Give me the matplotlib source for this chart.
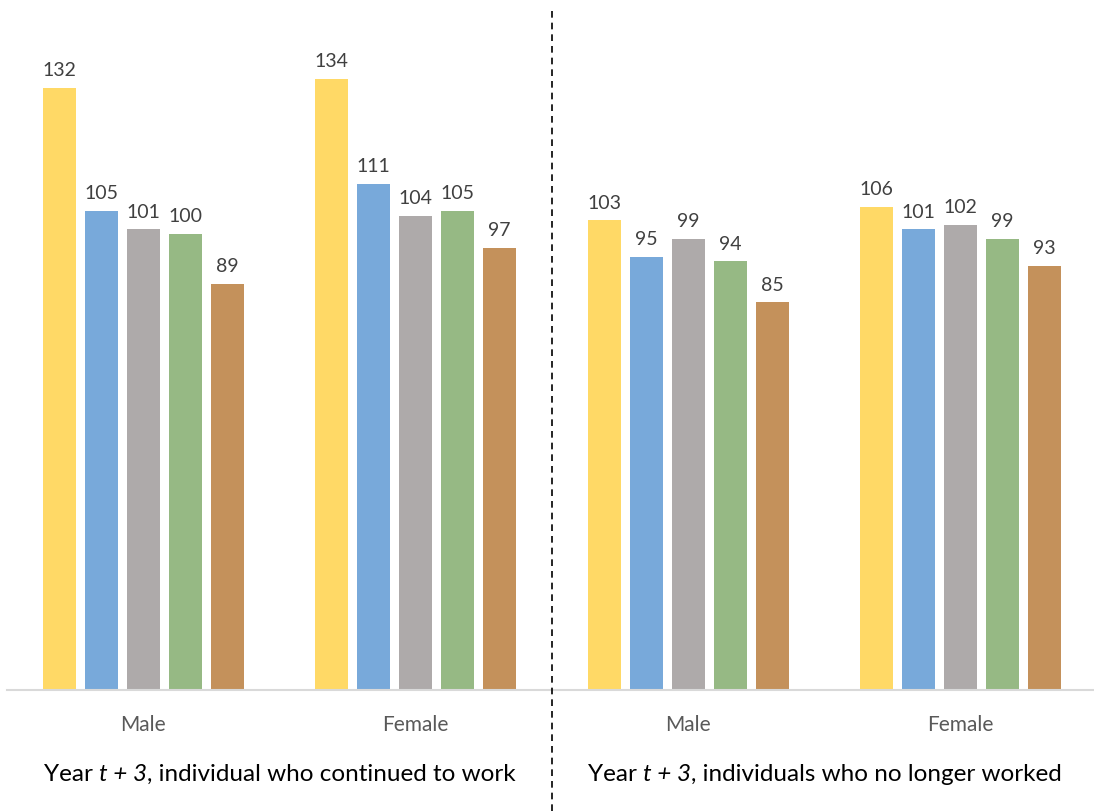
import matplotlib
matplotlib.use('Agg')

import numpy as np
import matplotlib.pyplot as plt
from matplotlib.lines import Line2D
from matplotlib.offsetbox import TextArea, HPacker, AnnotationBbox

plt.rcParams['font.family'] = ['Lato', 'DejaVu Sans']

categories = ['Male', 'Female', 'Male', 'Female']
yellow_vals = [132, 134, 103, 106]
blue_vals = [105, 111, 95, 101]
gray_vals = [101, 104, 99, 102]
green_vals = [100, 105, 94, 99]
brown_vals = [89, 97, 85, 93]
panel_tails = [', individual who continued to work',
               ', individuals who no longer worked']

series = [yellow_vals, blue_vals, gray_vals, green_vals, brown_vals]
colors = ['#FFD966', '#78A9DA', '#AEAAAA', '#96B984', '#C4915B']

fig = plt.figure(figsize=(10.94, 8.12), dpi=100)
# axes spans x 7..1097 px, y baseline at 691 px from top
ax = fig.add_axes([7 / 1094, (812 - 691) / 812, 1090 / 1094, 651 / 812])

x = np.arange(len(categories))
width = 0.121
step = 0.154
for i, (vals, c) in enumerate(zip(series, colors)):
    pos = x + (i - 2) * step
    bars = ax.bar(pos, vals, width, color=c, zorder=2)
    for b, v in zip(bars, vals):
        ax.annotate(str(v), (b.get_x() + b.get_width() / 2, v),
                    xytext=(0, 7), textcoords='offset points',
                    ha='center', va='bottom', fontsize=14, color='#404040')

ax.set_xlim(-0.5, 3.5)
ax.set_ylim(0, 651 / 4.56)
for s in ['top', 'right', 'left']:
    ax.spines[s].set_visible(False)
ax.spines['bottom'].set_color('#D9D9D9')
ax.spines['bottom'].set_linewidth(1.5)
ax.set_yticks([])
ax.set_xticks(x)
ax.set_xticklabels(categories, fontsize=15, color='#595959')
ax.tick_params(axis='x', length=0, pad=17)

# panel titles under the category labels, "t + 3" in italics
for k, tail in enumerate(panel_tails):
    props = dict(fontsize=17.5, color='black')
    parts = [TextArea('Year ', textprops=props),
             TextArea('t + 3', textprops=dict(props, fontstyle='italic')),
             TextArea(tail, textprops=props)]
    box = HPacker(children=parts, pad=0, sep=0, align='baseline')
    ab = AnnotationBbox(box, (2 * k + 0.5, -0.128), xycoords=ax.get_xaxis_transform(),
                        box_alignment=(0.5, 0.5), frameon=False, pad=0,
                        annotation_clip=False)
    ax.add_artist(ab)

# dashed divider between the two panels
xd = ax.transData.transform((1.5, 0))[0] / fig.bbox.width
fig.add_artist(Line2D([xd, xd], [0, 0.99], transform=fig.transFigure,
                      color='black', linestyle=(0, (4, 3)), linewidth=1.2))

fig.savefig('out.png', dpi=100)
